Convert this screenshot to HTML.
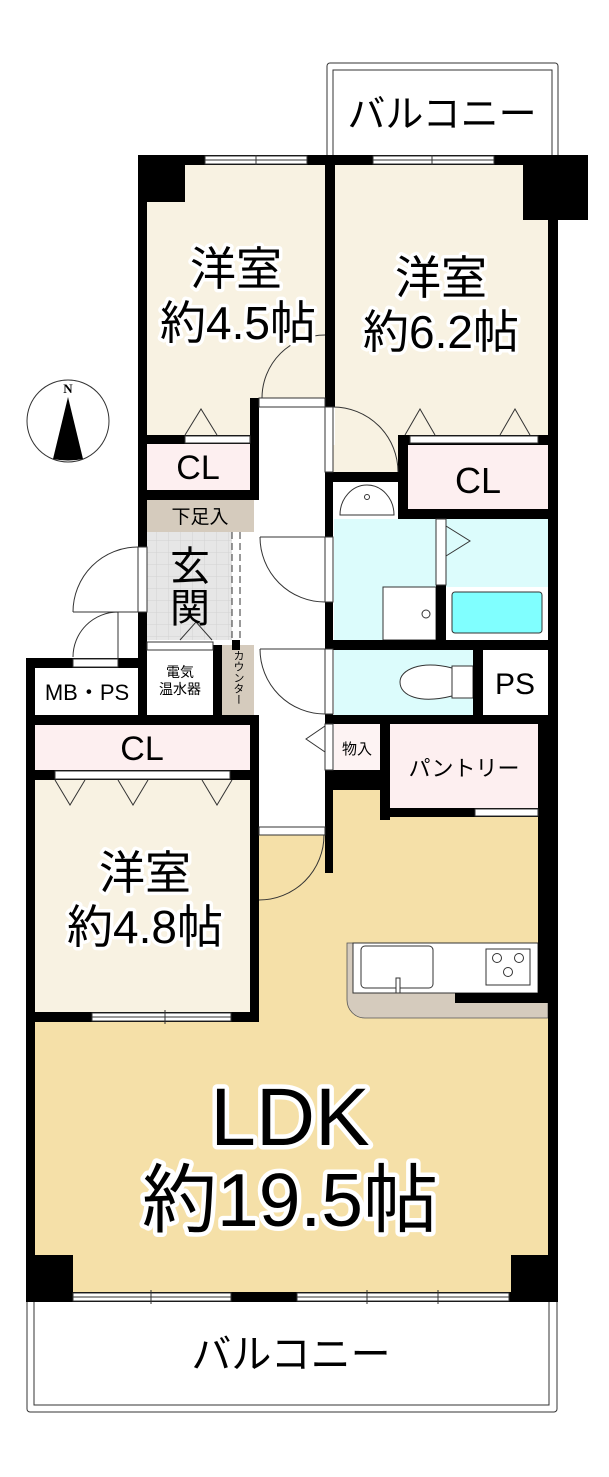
<!DOCTYPE html>
<html><head><meta charset="utf-8"><style>
html,body{margin:0;padding:0;background:#fff}
svg{display:block}
text{font-family:"Liberation Sans","Noto Sans CJK JP",sans-serif;text-anchor:middle;fill:#000}
.h{paint-order:stroke;stroke:#fff;stroke-width:7;stroke-linejoin:round}
.l{fill:none;stroke:#333;stroke-width:1}
.w{fill:#fff;stroke:#333;stroke-width:1}
</style></head><body>
<svg width="609" height="1477" viewBox="0 0 609 1477" xmlns="http://www.w3.org/2000/svg">
<defs>
<pattern id="tile" width="12" height="12" patternUnits="userSpaceOnUse">
<rect width="12" height="12" fill="#e6e6e6"/><path d="M0 0H12M0 0V12" stroke="#d2d2d2" stroke-width="1"/>
</pattern>
</defs>
<rect x="327" y="63" width="231" height="100" rx="3" class="w"/>
<rect x="333" y="70" width="219" height="93" class="w"/>
<rect x="27" y="1298" width="530" height="114" rx="3" class="w"/>
<rect x="34" y="1298" width="515" height="107" class="w"/>
<text x="442" y="127" font-size="38">バルコニー</text>
<text x="291" y="1368" font-size="40">バルコニー</text>

<rect x="35" y="790" width="513" height="502" fill="#f5e0a8"/>
<rect x="147" y="165" width="178" height="270" fill="#f8f2e2"/>
<rect x="335" y="165" width="213" height="280" fill="#f8f2e2"/>
<rect x="333" y="445" width="65" height="27" fill="#f8f2e2"/>
<rect x="259" y="398" width="66" height="437" fill="#fff"/>
<rect x="147" y="444" width="103" height="46" fill="#fdeff0"/>
<rect x="147" y="500" width="107" height="32" fill="#d5cbbd"/>
<rect x="147" y="532" width="85" height="108" fill="url(#tile)"/>
<rect x="408" y="443" width="140" height="66" fill="#fdeff0"/>
<rect x="334" y="482" width="64" height="36" fill="#fff"/>
<rect x="334" y="519" width="102" height="121" fill="#dcfcfc"/>
<rect x="446" y="519" width="102" height="68" fill="#dcfcfc"/>
<rect x="446" y="587" width="102" height="53" fill="#fff"/>
<rect x="452" y="592" width="90" height="41" rx="3" fill="#80ffff" stroke="#333"/>
<rect x="383" y="587" width="53" height="53" class="w"/>
<circle cx="426" cy="614" r="4" class="l"/>
<rect x="334" y="650" width="139" height="65" fill="#dcfcfc"/>
<rect x="483" y="650" width="65" height="65" fill="#fff"/>
<rect x="334" y="724" width="46" height="46" fill="#fdf3f3"/>
<rect x="390" y="724" width="148" height="84" fill="#fdeff0"/>
<rect x="35" y="668" width="103" height="45" fill="#fff"/>
<rect x="147" y="650" width="66" height="65" fill="#fff"/>
<rect x="222" y="645" width="32" height="70" fill="#d5cbbd"/>
<rect x="35" y="725" width="215" height="45" fill="#fdeff0"/>
<rect x="35" y="780" width="215" height="232" fill="#f8f2e2"/>

<path d="M340 515 A27 30 0 0 1 394 515 Z" class="w"/>
<circle cx="367" cy="497" r="2.5" class="l"/>
<rect x="452" y="666" width="21" height="32" class="w"/>
<path d="M452 668 C420 660 400 670 400 682 C400 696 420 704 452 696 Z" class="w"/>
<path d="M347 943 H548 V1018 H365 A18 18 0 0 1 347 1000 Z" fill="#d5cbbd" stroke="#555" stroke-width="0.8"/>
<rect x="353" y="943" width="185" height="50" class="w"/>
<rect x="361" y="946" width="72" height="42" rx="4" class="w"/>
<rect x="396" y="978" width="4" height="15" class="w"/>
<rect x="486" y="949" width="44" height="36" class="w"/>
<circle cx="497" cy="958" r="4.5" class="l"/><circle cx="519" cy="958" r="4.5" class="l"/><circle cx="508" cy="972" r="4.5" class="l"/>

<g fill="#000">
<rect x="138" y="155" width="420" height="10"/>
<rect x="138" y="155" width="47" height="47"/>
<rect x="523" y="155" width="65" height="65"/>
<rect x="138" y="155" width="9" height="345"/>
<rect x="325" y="155" width="10" height="252"/>
<rect x="325" y="398" width="8" height="475"/>
<rect x="147" y="435" width="112" height="9"/>
<rect x="250" y="398" width="9" height="102"/>
<rect x="138" y="490" width="121" height="10"/>
<rect x="138" y="500" width="9" height="158"/>
<rect x="232" y="640" width="8" height="10"/>
<rect x="213" y="645" width="9" height="70"/>
<rect x="26" y="658" width="121" height="10"/>
<rect x="26" y="658" width="9" height="642"/>
<rect x="138" y="658" width="9" height="57"/>
<rect x="26" y="715" width="233" height="10"/>
<rect x="35" y="770" width="215" height="10"/>
<rect x="250" y="715" width="9" height="307"/>
<rect x="35" y="1012" width="224" height="10"/>
<rect x="398" y="435" width="160" height="10"/>
<rect x="398" y="435" width="10" height="84"/>
<rect x="333" y="472" width="65" height="10"/>
<rect x="398" y="509" width="160" height="10"/>
<rect x="436" y="519" width="10" height="121"/>
<rect x="333" y="640" width="225" height="10"/>
<rect x="473" y="650" width="10" height="65"/>
<rect x="333" y="715" width="225" height="9"/>
<rect x="380" y="724" width="10" height="96"/>
<rect x="333" y="770" width="47" height="20"/>
<rect x="380" y="808" width="168" height="9"/>
<rect x="538" y="724" width="20" height="279"/>
<rect x="548" y="165" width="10" height="1137"/>
<rect x="455" y="993" width="93" height="10"/>
<rect x="26" y="1255" width="47" height="47"/>
<rect x="511" y="1255" width="46" height="47"/>
<rect x="26" y="1292" width="531" height="10"/>
</g>

<g class="w">
<rect x="205" y="156" width="102" height="8"/><rect x="373" y="156" width="121" height="8"/>
<rect x="185" y="436" width="65" height="7"/>
<rect x="410" y="436" width="128" height="7"/>
<rect x="259" y="398" width="66" height="9"/>
<rect x="325" y="407" width="8" height="65"/>
<rect x="325" y="537" width="8" height="65"/>
<rect x="325" y="649" width="8" height="65"/>
<rect x="325" y="724" width="8" height="46"/>
<rect x="436" y="519" width="10" height="66"/>
<rect x="475" y="809" width="63" height="7"/>
<rect x="138" y="547" width="9" height="65"/>
<rect x="73" y="659" width="45" height="8"/>
<rect x="147" y="642" width="66" height="8"/>
<rect x="55" y="771" width="175" height="8"/>
<rect x="92" y="1013" width="139" height="8"/>
<rect x="259" y="827" width="66" height="8"/>
<rect x="73" y="1293" width="158" height="8"/><rect x="297" y="1293" width="212" height="8"/>
</g>
<g class="l">
<path d="M205 160H307M373 160H494M92 1017H231M73 1297H231M297 1297H509"/>
<path d="M256 155V165M432 155V165M151 1290V1304M367 1290V1304M438 1290V1304M165 1010V1024"/>
<path d="M232 532V640M240 532V640" stroke-dasharray="7 4"/>
<path d="M262 398 A63 63 0 0 1 325 335"/>
<path d="M333 407 A65 65 0 0 1 398 472"/>
<path d="M260 537H325 M260 537 A65 65 0 0 0 325 602"/>
<path d="M260 649H325 M260 649 A65 65 0 0 0 325 714"/>
<path d="M259 900 A65 65 0 0 0 324 835"/>
<path d="M73 612H138 M73 612 A65 65 0 0 1 138 547"/>
<path d="M118 612V659 M73 657 A45 45 0 0 1 118 612"/>
<path d="M185 435 L201 409 L217 435"/>
<path d="M405 435 L420 409 L435 435"/>
<path d="M500 435 L515 409 L530 435"/>
<path d="M180 640 L196 622 L212 640"/>
<path d="M55 780 L70 805 L85 780"/>
<path d="M118 780 L133 805 L148 780"/>
<path d="M202 780 L217 805 L232 780"/>
<path d="M446 526 L470 541 L446 556"/>
<path d="M325 726 L306 739 L325 752"/>
</g>

<circle cx="68" cy="421" r="41" class="l"/>
<path d="M68 397 L53 459 Q68 462 83 459 Z" fill="#000"/>
<text x="68" y="393" font-size="13" font-weight="bold" style="font-family:'Liberation Serif',serif">N</text>

<g class="h">
<text x="236" y="285" font-size="46">洋室</text>
<text x="238" y="339" font-size="46">約4.5帖</text>
<text x="441" y="294" font-size="46">洋室</text>
<text x="441" y="348" font-size="46">約6.2帖</text>
<text x="145" y="889" font-size="46">洋室</text>
<text x="145" y="943" font-size="46">約4.8帖</text>
<text x="290" y="1145" font-size="82" style="stroke-width:9">LDK</text>
<text x="290" y="1226" font-size="75" style="stroke-width:9">約19.5帖</text>
</g>
<text x="198" y="479" font-size="34">CL</text>
<text x="478" y="493" font-size="36">CL</text>
<text x="142" y="760" font-size="34">CL</text>
<text x="200" y="523" font-size="19">下足入</text>
<text x="190" y="580" font-size="40">玄</text>
<text x="190" y="622" font-size="40">関</text>
<text x="180" y="677" font-size="14">電気</text>
<text x="180" y="694" font-size="14">温水器</text>
<text x="238" y="650" font-size="11" style="writing-mode:vertical-rl;text-anchor:start">カウンター</text>
<text x="87" y="700" font-size="22">MB・PS</text>
<text x="515" y="694" font-size="30">PS</text>
<text x="357" y="754" font-size="15">物入</text>
<text x="464" y="776" font-size="22">パントリー</text>
</svg>
</body></html>
